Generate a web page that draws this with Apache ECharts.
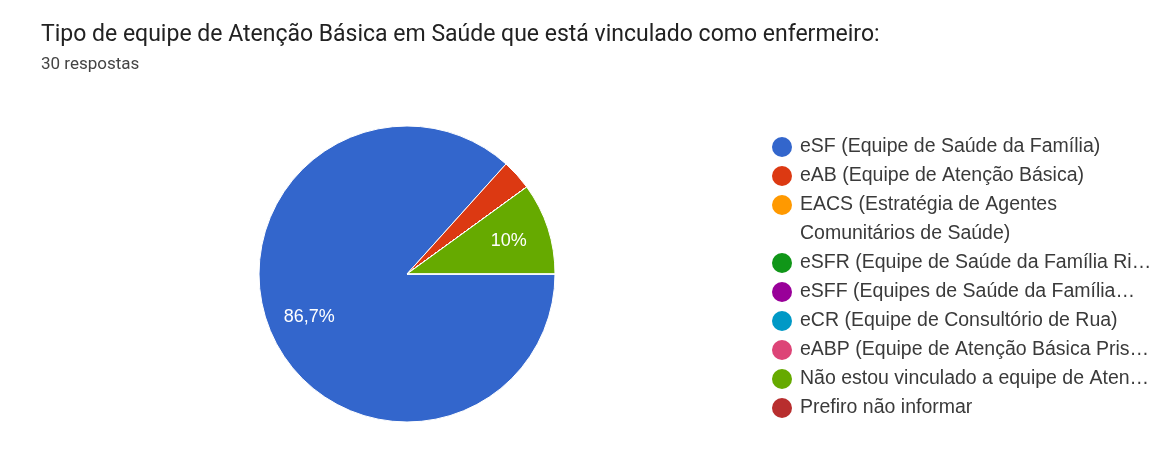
<!DOCTYPE html>
<html>
<head>
<meta charset="utf-8">
<script src="https://cdn.jsdelivr.net/npm/echarts@6/dist/echarts.min.js"></script>
<style>
  html, body { margin: 0; padding: 0; background: #fff; }
  #chart { width: 1160px; height: 473px; }
</style>
</head>
<body>
<div id="chart"></div>
<script>
// Response categories, as shown in the legend
const categories = [
  'eSF (Equipe de Saúde da Família)',
  'eAB (Equipe de Atenção Básica)',
  'EACS (Estratégia de Agentes Comunitários de Saúde)',
  'eSFR (Equipe de Saúde da Família Ri…',
  'eSFF (Equipes de Saúde da Família…',
  'eCR (Equipe de Consultório de Rua)',
  'eABP (Equipe de Atenção Básica Pris…',
  'Não estou vinculado a equipe de Aten…',
  'Prefiro não informar'
];
// Number of answers per category (30 in total)
const counts = [26, 1, 0, 0, 0, 0, 0, 3, 0];
const colors = ['#3366cc', '#dc3912', '#ff9900', '#109618', '#990099',
                '#0099c6', '#dd4477', '#66aa00', '#b82e2e'];

const title = 'Tipo de equipe de Atenção Básica em Saúde que está vinculado como enfermeiro:';
const subtitle = '30 respostas';

// legend geometry
const ROW = 29;            // line pitch
const LEGEND_X = 772;      // marker left edge
const LEGEND_Y = 147;      // centre of the first row
const MARKER = 20;
const TEXT_X = LEGEND_X + MARKER + 5 + 3;
const WRAPPED = 2;         // entry whose text runs over two lines
const BREAK_AT = 'Agentes ';

const wrappedName = categories[WRAPPED];
const cut = wrappedName.indexOf(BREAK_AT) + BREAK_AT.length;
const wrappedFirst = wrappedName.slice(0, cut).trim();
const wrappedRest = wrappedName.slice(cut);

const legendFont = { fontFamily: 'Liberation Sans', fontSize: 19.5, color: '#3a3a3a' };

const data = categories.map((name, i) => ({
  name: name,
  value: counts[i],
  itemStyle: { color: colors[i] }
}));

function pctLabel(p) {
  if (p.percent < 5) return '';
  let s = p.percent.toFixed(1);
  if (s.endsWith('.0')) s = s.slice(0, -2);
  return s.replace('.', ',') + '%';
}

function legendBlock(names, firstRow) {
  return {
    orient: 'vertical',
    left: LEGEND_X,
    top: LEGEND_Y + firstRow * ROW - ROW / 2,
    padding: 0,
    icon: 'circle',
    itemWidth: MARKER,
    itemHeight: MARKER,
    itemGap: 0,
    selectedMode: false,
    itemStyle: { borderWidth: 0 },
    data: names,
    formatter: name => (name === wrappedName ? wrappedFirst : name),
    textStyle: Object.assign({ lineHeight: ROW, padding: [0, 0, 0, 3] }, legendFont)
  };
}

const chart = echarts.init(document.getElementById('chart'), null, { renderer: 'canvas' });
chart.setOption({
  backgroundColor: '#fff',
  animation: false,
  title: {
    text: title,
    subtext: subtitle,
    left: 41,
    top: 24,
    padding: 0,
    itemGap: 9,
    textStyle: { fontFamily: 'Roboto', fontSize: 23, fontWeight: 'normal', color: '#222' },
    subtextStyle: { fontFamily: 'Roboto', fontSize: 17, color: '#444' }
  },
  legend: [
    legendBlock(categories.slice(0, WRAPPED + 1), 0),
    legendBlock(categories.slice(WRAPPED + 1), WRAPPED + 2)
  ],
  graphic: [{
    type: 'text',
    x: TEXT_X,
    y: LEGEND_Y + (WRAPPED + 1) * ROW,
    silent: true,
    style: {
      text: wrappedRest,
      fontFamily: legendFont.fontFamily,
      fontSize: legendFont.fontSize,
      fill: legendFont.color,
      verticalAlign: 'middle'
    }
  }],
  series: [
    {
      type: 'pie',
      center: [407, 274],
      radius: [0, 148],
      startAngle: 0,
      clockwise: true,
      silent: true,
      data: data,
      label: { show: false },
      labelLine: { show: false },
      itemStyle: { borderColor: '#fff', borderWidth: 1 }
    },
    {
      // transparent ring carrying the percentage labels at mid-radius
      type: 'pie',
      center: [407, 274],
      radius: [60, 148],
      startAngle: 0,
      clockwise: true,
      silent: true,
      data: categories.map((name, i) => ({ name: name, value: counts[i] })),
      itemStyle: { color: 'rgba(0,0,0,0)', borderWidth: 0 },
      label: {
        show: true,
        position: 'inside',
        formatter: pctLabel,
        fontFamily: 'Liberation Sans',
        fontSize: 18,
        color: '#fff'
      },
      labelLine: { show: false }
    }
  ]
});
</script>
</body>
</html>
